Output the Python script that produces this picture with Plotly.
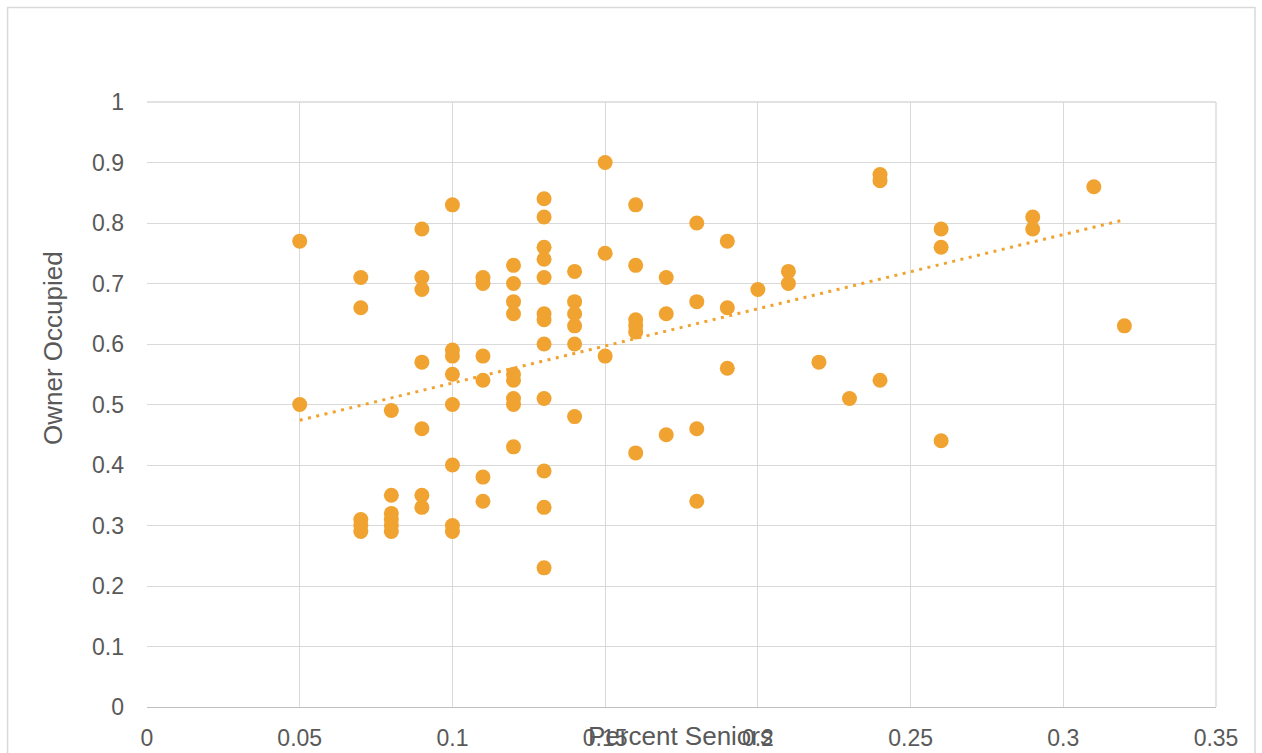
import numpy as np
import plotly.graph_objects as go

# ---- data ----
seniors_groups = [0.05, 0.07, 0.08, 0.09, 0.10, 0.11, 0.12, 0.13, 0.14, 0.15, 0.16, 0.17,
                  0.18, 0.19, 0.20, 0.21, 0.22, 0.23, 0.24, 0.26, 0.29, 0.31, 0.32]
owner_groups = [
    [0.77, 0.50],
    [0.71, 0.66, 0.31, 0.30, 0.29],
    [0.49, 0.35, 0.32, 0.31, 0.30, 0.29],
    [0.79, 0.71, 0.69, 0.57, 0.46, 0.35, 0.33],
    [0.83, 0.59, 0.58, 0.55, 0.50, 0.40, 0.30, 0.29],
    [0.71, 0.70, 0.58, 0.54, 0.38, 0.34],
    [0.73, 0.70, 0.67, 0.65, 0.55, 0.54, 0.51, 0.50, 0.43],
    [0.84, 0.81, 0.76, 0.74, 0.71, 0.65, 0.64, 0.60, 0.51, 0.39, 0.33, 0.23],
    [0.72, 0.67, 0.65, 0.63, 0.60, 0.48],
    [0.90, 0.75, 0.58],
    [0.83, 0.73, 0.64, 0.63, 0.62, 0.42],
    [0.71, 0.65, 0.45],
    [0.80, 0.67, 0.46, 0.34],
    [0.77, 0.66, 0.56],
    [0.69],
    [0.72, 0.70],
    [0.57],
    [0.51],
    [0.88, 0.87, 0.54],
    [0.79, 0.76, 0.44],
    [0.81, 0.79],
    [0.86],
    [0.63],
]
x_ticks = [0, 0.05, 0.1, 0.15, 0.2, 0.25, 0.3, 0.35]
x_tick_labels = ["0", "0.05", "0.1", "0.15", "0.2", "0.25", "0.3", "0.35"]
y_ticks = [0, 0.1, 0.2, 0.3, 0.4, 0.5, 0.6, 0.7, 0.8, 0.9, 1]
y_tick_labels = ["0", "0.1", "0.2", "0.3", "0.4", "0.5", "0.6", "0.7", "0.8", "0.9", "1"]

x_vals = []
y_vals = []
for xv, ys in zip(seniors_groups, owner_groups):
    for yv in ys:
        x_vals.append(xv)
        y_vals.append(yv)
x_vals = np.array(x_vals)
y_vals = np.array(y_vals)

# linear trendline (least squares)
slope, intercept = np.polyfit(x_vals, y_vals, 1)
tx = np.array([x_vals.min(), x_vals.max()])
ty = slope * tx + intercept

ORANGE = "#F0A330"
GRID = "#D9D9D9"
TXT = "#595959"
FONT = "Liberation Sans, Arial, sans-serif"

# pixel layout
W, H = 1262, 753
L, R, T, B = 147, 1216.5, 102, 707
pw, ph = R - L, B - T


def px(xp):
    return (xp - L) / pw


def py(yp):
    return (B - yp) / ph


fig = go.Figure()
fig.add_trace(go.Scatter(
    x=x_vals, y=y_vals, mode="markers",
    marker=dict(size=15, color=ORANGE, line=dict(width=0)),
    showlegend=False, hoverinfo="x+y"))
fig.add_trace(go.Scatter(
    x=tx, y=ty, mode="lines",
    line=dict(color=ORANGE, width=3, dash="3px,5.5px"),
    showlegend=False, hoverinfo="skip"))

fig.update_layout(
    width=W, height=H,
    margin=dict(l=L, r=W - R, t=T, b=H - B, autoexpand=False),
    paper_bgcolor="white", plot_bgcolor="white",
    font=dict(family=FONT, size=23, color=TXT),
    xaxis=dict(range=[0, 0.35], tickvals=x_ticks, ticktext=x_tick_labels,
               showgrid=True, gridcolor=GRID, gridwidth=1.3,
               zeroline=False, showline=True, linecolor="#BFBFBF", linewidth=1.3,
               ticks="", ticklabelstandoff=10, fixedrange=True, automargin=False,
               tickfont=dict(size=23, color=TXT)),
    yaxis=dict(range=[0, 1], tickvals=y_ticks, ticktext=y_tick_labels,
               showgrid=True, gridcolor=GRID, gridwidth=1.3,
               zeroline=False, showline=False,
               ticks="", ticklabelstandoff=22, fixedrange=True, automargin=False,
               tickfont=dict(size=23, color=TXT)),
    shapes=[
        dict(type="rect", xref="paper", yref="paper",
             x0=px(7.5), x1=px(1255.5), y0=py(765), y1=py(7.5),
             line=dict(color=GRID, width=1.5), fillcolor="rgba(0,0,0,0)",
             layer="below"),
        dict(type="line", xref="paper", yref="paper",
             x0=1, x1=1, y0=0, y1=1, line=dict(color=GRID, width=1.3)),
        dict(type="line", xref="paper", yref="paper",
             x0=0, x1=1, y0=1, y1=1, line=dict(color=GRID, width=1.3)),
    ],
    annotations=[
        dict(text="Owner Occupied", xref="paper", yref="paper",
             x=px(53), y=py(348), textangle=-90, showarrow=False,
             xanchor="center", yanchor="middle",
             font=dict(family=FONT, size=26, color=TXT)),
        dict(text="Percent Seniors", xref="paper", yref="paper",
             x=px(681), y=py(736), showarrow=False,
             xanchor="center", yanchor="middle",
             font=dict(family=FONT, size=26, color=TXT)),
    ],
)

fig.write_html("out.html", config={"displayModeBar": False})
